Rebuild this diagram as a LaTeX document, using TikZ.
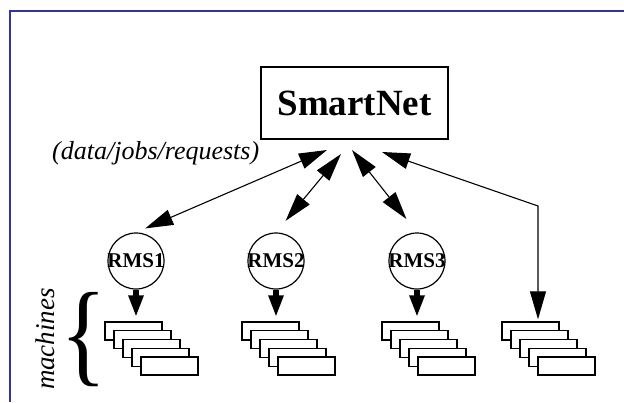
\documentclass[tikz,border=0pt]{standalone}
\usepackage{fontspec}
\setmainfont{Liberation Serif}
\usetikzlibrary{arrows.meta, calc}
\definecolor{frameblue}{RGB}{51,51,153}
\tikzset{
    rms/.style={circle, draw, line width=1.2pt, minimum size=56pt, inner sep=0pt,
        font=\fontsize{21}{21}\selectfont\bfseries},
    machine/.style={rectangle, draw, line width=1.4pt, fill=white,
        minimum width=57pt, minimum height=18pt, inner sep=0pt},
    link/.style={{Triangle[length=28pt,width=16pt]}-{Triangle[length=28pt,width=16pt]}, line width=1.1pt},
    feed/.style={-{Triangle[length=22pt,width=14pt]}, line width=5.5pt}
}

\begin{document}
\begin{tikzpicture}[x=1pt, y=-1pt]
    \useasboundingbox (0,0) rectangle (624,402);
    \draw[frameblue, line width=2pt] (10,402) -- (10,11) -- (624,11);

    \node[draw, line width=1.4pt, minimum width=187pt, minimum height=72pt,
        font=\fontsize{37}{37}\selectfont\bfseries] (sn) at (354.5,103) {SmartNet};
    \node[anchor=base west, inner sep=0pt, font=\fontsize{26}{26}\selectfont\itshape]
        (req) at (52,159) {(data/jobs/requests)};

    \node[rms] (rms1) at (136,261) {\makebox[0pt]{RMS1}};
    \node[rms] (rms2) at (276,261) {\makebox[0pt]{RMS2}};
    \node[rms] (rms3) at (417,261) {\makebox[0pt]{RMS3}};

    % machine stacks
    \foreach \s/\x in {1/133.5, 2/270.5, 3/410.5, 4/530.5}
        \foreach \k in {0,...,4}
            \node[machine] (m\s-\k) at ({\x+9*\k}, {331+8.75*\k}) {};

    \node[inner sep=0pt] (brace) at (84,340) {\scalebox{0.85}[1]{\fontsize{114}{114}\selectfont\{}};
    \node[rotate=90, inner sep=0pt, font=\fontsize{27}{27}\selectfont\itshape]
        (mach) at (45,339) {machines};

    \coordinate (s1) at (327,150);
    \coordinate (s2) at (341,154);
    \coordinate (s3) at (352,150);
    \coordinate (s4) at (382,152);
    \coordinate (k4) at (538,206);

    \draw[link, shorten >=10pt] (s1) -- (rms1.north);
    \draw[link, shorten >=15pt] (s2) -- (rms2.north);
    \draw[link, shorten >=17pt] (s3) -- (rms3.north);
    \draw[link, shorten >=2pt] (s4) -- (k4) -- (k4 |- m4-0.north);

    \foreach \s in {1,2,3}
        \draw[feed, shorten >=4pt] (rms\s.south) -- (rms\s.south |- m\s-0.north);
\end{tikzpicture}
\end{document}
